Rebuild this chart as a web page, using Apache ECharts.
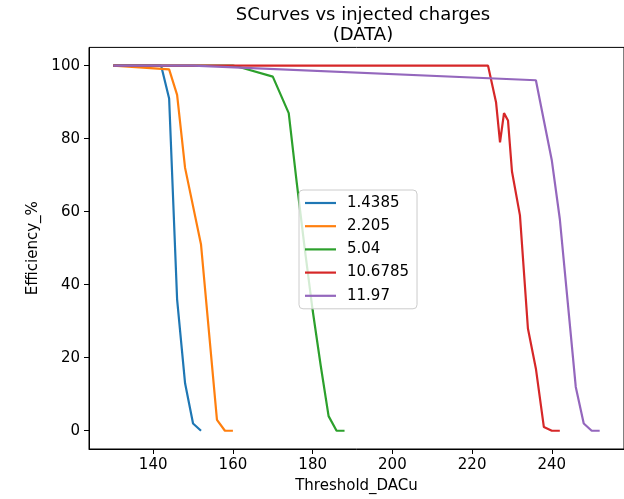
<!DOCTYPE html>
<html>
<head>
<meta charset="utf-8">
<script src="https://cdn.jsdelivr.net/npm/echarts@6/dist/echarts.min.js"></script>
<style>html,body{margin:0;padding:0;background:#fff}#c{width:624px;height:499px}</style>
</head>
<body>
<div id="c"></div>
<script>
const seriesNames = ['1.4385', '2.205', '5.04', '10.6785', '11.97'];
const colors = ['#1f77b4', '#ff7f0e', '#2ca02c', '#d62728', '#9467bd'];

const blueX = [130, 142, 144, 146, 148, 150, 152];
const blueY = [100, 100, 91, 36, 13, 2, 0];

const orangeX = [130, 144, 146, 148, 152, 156, 158, 160];
const orangeY = [100, 99, 92, 72, 51, 3, 0, 0];

const greenX = [130, 160, 162, 170, 174, 176, 178, 180, 182, 184, 186, 188];
const greenY = [100, 100, 99.5, 97, 87, 68, 50, 33, 18, 4, 0, 0];

const redX = [130, 224, 226, 227, 228, 229, 230, 232, 234, 236, 238, 240, 242];
const redY = [100, 100, 90, 79, 87, 85, 71, 59, 28, 17, 1, 0, 0];

const purpleX = [130, 150, 236, 238, 240, 242, 244, 246, 248, 250, 252];
const purpleY = [100, 100, 96, 85, 74, 58, 35, 12, 2, 0, 0];

const xTicks = [140, 160, 180, 200, 220, 240];
const yTicks = [0, 20, 40, 60, 80, 100];

const allX = [blueX, orangeX, greenX, redX, purpleX];
const allY = [blueY, orangeY, greenY, redY, purpleY];

const FONT = 'DejaVu Sans';
const FS = 15;
const chart = echarts.init(document.getElementById('c'), null, {renderer: 'canvas'});

const series = seriesNames.map((name, i) => ({
  name: name,
  type: 'line',
  data: allX[i].map((x, j) => [x, allY[i][j]]),
  symbol: 'none',
  lineStyle: {color: colors[i], width: 2.2},
  itemStyle: {color: colors[i]},
  animation: false
}));

chart.setOption({
  animation: false,
  title: {
    text: 'SCurves vs injected charges\n(DATA)',
    left: 358, top: 0,
    textAlign: 'center',
    textStyle: {fontFamily: FONT, fontSize: 18, fontWeight: 'normal', color: '#000', lineHeight: 20}
  },
  grid: {left: 89, top: 47.4, width: 538.8, height: 401.9, show: true, borderColor: '#000', borderWidth: 1, containLabel: false},
  legend: {
    orient: 'vertical',
    left: 299, top: 190,
    data: seriesNames,
    icon: 'rect',
    itemWidth: 31, itemHeight: 2.2,
    itemGap: 8.2,
    padding: [5.5, 8, 5.5, 6],
    borderColor: '#cccccc', borderWidth: 1, borderRadius: 4,
    backgroundColor: 'rgba(255,255,255,0.8)',
    textStyle: {fontFamily: FONT, fontSize: FS, color: '#000', lineHeight: 15, padding: [0, 0, 0, 6]}
  },
  xAxis: {
    type: 'value', min: 123.9, max: 258.1,
    name: 'Threshold_DACu', nameLocation: 'middle', nameGap: 30,
    nameTextStyle: {fontFamily: FONT, fontSize: FS, color: '#000'},
    axisLine: {show: true, onZero: false, lineStyle: {color: '#000', width: 1}},
    axisTick: {show: true, length: 5, lineStyle: {color: '#000'}, customValues: xTicks},
    axisLabel: {fontFamily: FONT, fontSize: FS, color: '#000', margin: 9, customValues: xTicks},
    splitLine: {show: false}
  },
  yAxis: {
    type: 'value', min: -5, max: 105,
    name: 'Efficiency_%', nameLocation: 'middle', nameGap: 48,
    nameTextStyle: {fontFamily: FONT, fontSize: FS, color: '#000'},
    axisLine: {show: true, onZero: false, lineStyle: {color: '#000', width: 1}},
    axisTick: {show: true, length: 5, lineStyle: {color: '#000'}, customValues: yTicks},
    axisLabel: {fontFamily: FONT, fontSize: FS, color: '#000', margin: 9, customValues: yTicks},
    splitLine: {show: false}
  },
  series: series
});
</script>
</body>
</html>
